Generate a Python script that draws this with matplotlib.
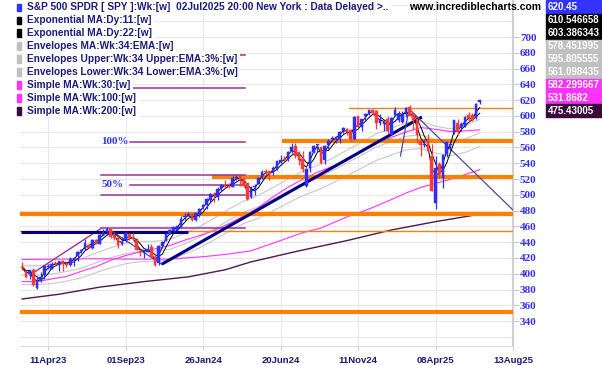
import numpy as np
import matplotlib.pyplot as plt
from matplotlib.patches import Rectangle

# weekly SPY candles, week 0 = 13Feb2023
opens = [408.7, 403.1, 399.9, 405.0, 381.8, 390.8, 398.1, 408.9, 406.6, 412.4,
         411.9, 415.5, 412.0, 411.1, 418.6, 422.0, 428.3, 430.9, 436.7, 432.6,
         442.9, 438.2, 449.1, 453.4, 456.3, 448.7, 444.7, 437.6, 442.2, 450.7,
         446.4, 443.1, 429.2, 426.6, 427.6, 433.8, 420.7, 413.6, 435.5, 441.6,
         450.5, 454.7, 455.8, 459.7, 472.5, 474.0, 476.3, 467.5, 475.3, 484.0,
         487.6, 493.7, 500.9, 497.7, 508.3, 512.0, 510.5, 510.5, 521.2, 523.8,
         519.2, 515.1, 497.8, 509.5, 513.8, 522.6, 529.6, 530.3, 529.0, 533.2,
         542.1, 544.3, 545.6, 555.4, 562.0, 553.0, 546.0, 511.6, 534.2, 554.7,
         563.2, 560.5, 544.7, 562.9, 570.3, 570.4, 571.3, 581.2, 583.9, 582.6,
         571.3, 599.8, 586.2, 599.5, 602.9, 607.7, 606.0, 590.9, 589.9, 596.3,
         575.8, 600.7, 594.8, 592.7, 604.0, 610.9, 602.0, 596.2, 567.6, 562.8,
         570.8, 549.8, 489.2, 539.0, 521.0, 551.6, 563.0, 579.0, 591.5, 585.5,
         587.8, 601.0, 600.8, 597.4, 617.4]
highs = [415.1, 404.2, 404.5, 407.5, 396.5, 402.5, 409.7, 411.9, 415.1, 415.7,
         416.2, 417.6, 414.5, 420.7, 420.8, 428.7, 431.0, 443.9, 438.5, 444.3,
         444.1, 451.4, 456.4, 459.4, 458.2, 451.4, 448.1, 446.6, 453.7, 451.0,
         451.1, 445.4, 431.9, 430.0, 438.1, 438.1, 424.8, 436.3, 440.9, 451.4,
         456.4, 459.6, 461.0, 472.9, 476.4, 477.6, 476.4, 477.0, 482.7, 488.8,
         496.1, 501.7, 503.5, 510.1, 513.3, 518.2, 515.5, 524.1, 524.6, 524.4,
         523.2, 515.3, 510.6, 513.5, 522.6, 531.5, 533.1, 530.5, 536.0, 543.4,
         550.3, 548.6, 555.1, 566.0, 565.2, 556.0, 555.3, 534.0, 555.0, 563.2,
         564.9, 561.0, 563.0, 570.4, 574.7, 574.4, 580.3, 586.1, 585.1, 584.0,
         599.9, 600.2, 596.2, 603.4, 608.0, 609.1, 607.8, 602.5, 592.4, 599.7,
         598.8, 610.8, 606.1, 606.3, 611.5, 613.2, 603.4, 597.3, 570.0, 570.9,
         577.0, 565.0, 548.6, 541.2, 551.8, 567.9, 568.2, 594.5, 596.0, 592.2,
         600.0, 605.1, 604.0, 616.4, 620.5]
lows = [404.1, 394.5, 393.6, 384.3, 380.7, 389.4, 393.7, 405.7, 405.9, 410.2,
        403.8, 403.7, 408.9, 409.9, 410.2, 416.2, 425.8, 430.2, 432.1, 431.2,
        437.1, 437.5, 448.8, 449.4, 445.0, 443.3, 433.0, 436.4, 440.4, 442.8,
        442.8, 429.7, 422.3, 420.2, 427.2, 421.0, 409.2, 411.6, 433.0, 441.4,
        450.0, 453.4, 453.8, 458.8, 468.0, 473.3, 466.4, 467.1, 471.7, 481.8,
        482.4, 490.5, 491.3, 493.3, 504.6, 508.1, 508.5, 510.0, 518.4, 511.0,
        509.9, 493.9, 496.5, 499.7, 513.3, 519.5, 524.7, 518.8, 524.8, 531.5,
        540.9, 541.4, 542.7, 553.2, 546.9, 537.5, 529.3, 510.3, 528.9, 553.0,
        553.9, 539.4, 539.4, 557.8, 567.6, 566.0, 566.0, 578.6, 575.6, 568.4,
        569.9, 584.8, 580.9, 595.2, 601.1, 601.5, 583.4, 589.1, 580.9, 578.3,
        575.4, 599.3, 592.7, 591.6, 598.2, 599.5, 582.4, 565.6, 549.7, 561.2,
        555.6, 505.1, 481.8, 520.8, 509.0, 547.4, 556.0, 577.0, 575.6, 581.0,
        585.7, 593.9, 593.5, 596.7, 615.0]
closes = [407.3, 396.4, 404.2, 385.9, 390.0, 395.8, 409.4, 409.2, 412.5, 412.2,
          415.9, 412.6, 411.6, 418.6, 420.0, 427.9, 429.9, 439.5, 433.2, 443.3,
          438.6, 449.3, 452.2, 456.9, 446.8, 445.7, 436.5, 440.0, 451.2, 445.5,
          443.4, 430.4, 427.5, 429.5, 431.5, 421.2, 410.7, 434.7, 440.6, 450.8,
          455.3, 459.1, 460.2, 469.3, 473.7, 475.3, 467.9, 476.7, 482.4, 487.4,
          494.4, 501.2, 499.5, 507.9, 512.9, 511.7, 509.8, 521.2, 523.1, 518.4,
          510.9, 495.2, 508.3, 511.3, 520.8, 529.5, 529.4, 527.4, 534.0, 542.8,
          544.5, 544.2, 554.6, 560.0, 549.0, 544.4, 532.9, 533.0, 554.3, 562.1,
          563.7, 540.4, 562.0, 568.3, 571.5, 573.0, 579.6, 584.6, 579.0, 571.0,
          598.2, 585.8, 595.5, 602.6, 607.8, 604.3, 591.2, 595.0, 592.0, 580.5,
          597.6, 608.0, 601.8, 600.8, 609.7, 600.0, 594.2, 575.9, 562.8, 564.0,
          555.7, 505.3, 533.9, 526.4, 550.6, 566.8, 564.3, 594.2, 579.1, 589.4,
          599.1, 597.0, 594.3, 614.9, 620.45]

ema11 = [408, 401, 402, 394, 391, 392, 402, 407, 411, 412,
         414, 414, 413, 415, 418, 424, 428, 434, 435, 439,
         440, 445, 449, 454, 451, 448, 441, 440, 445, 447,
         445, 437, 431, 429, 430, 426, 417, 424, 434, 445,
         451, 456, 459, 465, 470, 474, 471, 473, 478, 484,
         490, 497, 499, 504, 509, 512, 511, 516, 520, 521,
         515, 504, 504, 508, 516, 524, 528, 528, 531, 537,
         542, 544, 550, 556, 554, 548, 539, 535, 544, 555,
         562, 552, 555, 562, 569, 572, 576, 581, 581, 576,
         586, 588, 592, 598, 604, 605, 598, 595, 593, 587,
         591, 600, 603, 602, 605, 603, 599, 586, 572, 565,
         560, 532, 527, 526, 540, 555, 563, 580, 582, 587,
         593, 597, 596, 605, 610.5]
ema22 = [409, 404, 404, 399, 396, 392, 395, 400, 407, 410,
         412, 413, 414, 414, 415, 419, 423, 429, 432, 436,
         438, 441, 445, 449, 451, 451, 447, 443, 442, 444,
         446, 443, 438, 432, 430, 428, 424, 422, 425, 434,
         443, 451, 455, 460, 465, 470, 472, 473, 474, 478,
         484, 490, 495, 500, 504, 508, 511, 513, 516, 519,
         519, 513, 508, 505, 509, 516, 523, 527, 529, 532,
         537, 541, 545, 550, 553, 553, 547, 541, 539, 545,
         554, 556, 556, 556, 562, 568, 572, 576, 579, 579,
         581, 583, 589, 593, 598, 602, 602, 599, 595, 592,
         590, 593, 598, 602, 603, 603, 602, 596, 586, 574,
         566, 552, 540, 528, 531, 540, 553, 566, 575, 583,
         587, 592, 595, 599, 603.4]

env_wk = [0, 4, 8, 12, 16, 20, 24, 28, 32, 36, 40, 44, 48, 52, 56, 60,
          64, 68, 72, 76, 80, 84, 88, 92, 96, 100, 104, 108, 112, 116, 120, 124]
env_mid = [398.0, 398.2, 399.5, 402.7, 406.9, 413.8, 420.4, 425.4, 428.3, 428.3,
           430.9, 437.8, 446.2, 456.5, 467.9, 477.8, 484.8, 494.4, 504.8, 514.3,
           521.6, 530.3, 540.4, 550.4, 560.6, 567.3, 574.2, 576.1, 569.9, 566.6,
           570.8, 578.45]
env_up = [409.9, 410.1, 411.5, 414.8, 419.1, 426.2, 433.0, 438.2, 441.1, 441.1,
          443.8, 450.9, 459.6, 470.2, 481.9, 492.1, 499.3, 509.3, 519.9, 529.7,
          537.2, 546.2, 556.6, 566.9, 577.4, 584.3, 591.4, 593.4, 587.0, 583.6,
          587.9, 595.8]
env_lo = [386.1, 386.3, 387.5, 390.6, 394.7, 401.4, 407.8, 412.6, 415.5, 415.5,
          418.0, 424.7, 432.8, 442.8, 453.9, 463.5, 470.3, 479.6, 489.7, 498.9,
          505.9, 514.7, 524.2, 533.9, 543.8, 550.3, 557.0, 558.8, 552.8, 549.6,
          553.7, 561.1]
sma30 = [390, 390, 393.4, 396.5, 403, 409, 417, 423, 427.7, 431.4,
         435.8, 442.5, 448.2, 454.8, 463.4, 473.2, 483.7, 497.5, 509.5, 519.5,
         528.6, 536.0, 544.3, 554.9, 565.4, 572.6, 579.7, 585.3, 583.0, 580.2,
         581.1, 582.3]
sma100_wk = [0, 10, 20, 30, 40, 50, 56, 62, 70, 76, 81, 88, 94, 100, 104, 108, 112, 116, 120, 124]
sma100 = [418, 418.5, 419, 418.5, 418.5, 422, 425, 429, 442, 452,
          458, 472, 482, 493.9, 502.3, 509.4, 514.5, 519.6, 525.7, 531.9]
sma200_wk = [0, 10, 21, 33, 45, 55, 62, 75, 88, 100, 112, 124]
sma200 = [368, 374, 383, 390, 396, 405, 415, 429, 442, 455.4, 466, 475.4]

# drawn support / resistance lines: (level, start week)
orange_thick = [(351.5, -1), (475.5, -1), (522.5, 51.4), (568.0, 70.4)]
orange_thin = [(454.5, -1), (610.0, 88.6)]
fib_levels = [676.7, 634.9, 567.3, 525.5, 512.6, 499.7, 457.9]
fib_start = [29.3, 29.3, 29.3, 21.4, 29.3, 21.4, 21.4]
fib_end = 60.4
fib_labels = [('100%', 567.3), ('50%', 512.6)]
navy_thick = [((-0.2, 45.0), (452.5, 452.5)), ((37.8, 108.3), (412.0, 598.6))]
navy_thin = [((23.8, 37.8), (455.4, 412.0)), ((104.6, 133.0), (610.0, 480.7)),
             ((102.5, 104.8), (549.2, 608.7))]
fib_diag = ((2.1, 21.4), (398.4, 457.5))

tick_wk = [7, 28, 49, 70, 91, 112, 133]
tick_lbl = ['11Apr23', '01Sep23', '26Jan24', '20Jun24', '11Nov24', '08Apr25', '13Aug25']

legend = [('S&P 500 SPDR [ SPY ]:Wk:[w]  02Jul2025 20:00 New York : Data Delayed >..', '#3333ff'),
          ('Exponential MA:Dy:11:[w]', '#000000'),
          ('Exponential MA:Dy:22:[w]', '#000000'),
          ('Envelopes MA:Wk:34:EMA:[w]', '#c0c0c0'),
          ('Envelopes Upper:Wk:34 Upper:EMA:3%:[w]', '#c0c0c0'),
          ('Envelopes Lower:Wk:34 Lower:EMA:3%:[w]', '#c0c0c0'),
          ('Simple MA:Wk:30:[w]', '#ff33ff'),
          ('Simple MA:Wk:100:[w]', '#ff33ff'),
          ('Simple MA:Wk:200:[w]', '#3a0a3a')]
last_vals = ['620.45', '610.546658', '603.386343', '578.451995', '595.805555',
             '561.098435', '582.299667', '531.8682', '475.43005']

W, H = 602, 365
fig = plt.figure(figsize=(W / 100, H / 100), dpi=100)
ax = fig.add_axes([20 / W, 1 - 346 / H, 493 / W, 346 / H])
ax.set_xlim(-0.6, 133.0)
ax.set_ylim(308.4, 746.9)

for v in range(320, 741, 20):
    ax.axhline(v, color='#e8e8e8', lw=0.8, zorder=0)
for t in tick_wk:
    ax.axvline(t, color='#e8e8e8', lw=0.8, zorder=0)

wk = np.arange(len(closes))
ax.plot(env_wk, env_up, color='#c8c8c8', lw=0.8, zorder=2)
ax.plot(env_wk, env_mid, color='#c8c8c8', lw=0.8, zorder=2)
ax.plot(env_wk, env_lo, color='#c8c8c8', lw=0.8, zorder=2)
ax.plot(env_wk, sma30, color='#ff33ff', lw=0.8, zorder=2)
ax.plot(sma100_wk, sma100, color='#ff33ff', lw=0.8, zorder=2)
ax.plot(sma200_wk, sma200, color='#4d1a4d', lw=1.0, zorder=2)

for lvl, x0 in orange_thick:
    ax.plot([x0, 134], [lvl, lvl], color='#ff8000', lw=3, zorder=3, solid_capstyle='butt')
for lvl, x0 in orange_thin:
    ax.plot([x0, 134], [lvl, lvl], color='#ff8000', lw=1, zorder=3)
for lvl, x0 in zip(fib_levels, fib_start):
    ax.plot([x0, fib_end], [lvl, lvl], color='#993399', lw=1.1, zorder=3)
ax.plot(fib_diag[0], fib_diag[1], color='#993399', lw=1.0, zorder=3)
for txt, lvl in fib_labels:
    ax.text(21.4, lvl, txt, color='#3333ee', fontsize=8, fontweight='bold',
            family='Liberation Serif', va='center', ha='left', zorder=4)
for xs, ys in navy_thick:
    ax.plot(xs, ys, color='#000080', lw=2.2, zorder=4, solid_capstyle='butt')
for xs, ys in navy_thin:
    ax.plot(xs, ys, color='#4a4a9a', lw=0.9, zorder=4)

ax.plot(wk, ema22, color='#000000', lw=0.7, zorder=5)
ax.plot(wk, ema11, color='#000000', lw=0.7, zorder=5)

o = np.array(opens); c = np.array(closes)
cols = np.where(c >= o, '#2e2eff', '#ff3838')
ax.vlines(wk, lows, highs, colors=cols, lw=0.9, zorder=6)
ax.bar(wk, np.maximum(np.abs(c - o), 0.8), bottom=np.minimum(o, c), width=0.72,
       color=cols, edgecolor=cols, lw=0.3, zorder=6)

ax.yaxis.tick_right()
ax.set_yticks(range(340, 701, 20))
ax.tick_params(axis='y', length=4, width=0.8, color='#c8c8c8', labelcolor='#3333ee',
               labelsize=8, pad=1)
for lab in ax.get_yticklabels():
    lab.set_family('Liberation Serif')
    lab.set_fontweight('bold')
ax.set_xticks(tick_wk)
ax.set_xticklabels(tick_lbl)
ax.tick_params(axis='x', length=3, width=0.8, color='#d0d0d0', labelcolor='#1a1a73',
               labelsize=6.8, pad=4)
for lab in ax.get_xticklabels():
    lab.set_family('Liberation Sans')
    lab.set_fontweight('bold')
for s in ['top', 'left']:
    ax.spines[s].set_visible(False)
ax.spines['bottom'].set_color('#dcdcdc')
ax.spines['right'].set_color('#d0d0d0')
ax.spines['right'].set_linewidth(1.5)

# legend block
for k, (txt, col) in enumerate(legend):
    yc = 7.3 + 12.95 * k
    fig.patches.append(Rectangle((17 / W, 1 - (yc + 3.7) / H), 3.8 / W, 7.4 / H,
                                 transform=fig.transFigure, color=col, zorder=10))
    fig.text(27 / W, 1 - yc / H, txt, fontsize=7.3, fontweight='bold', color='#1c1c7c',
             family='Liberation Sans', va='center', ha='left', zorder=10,
             bbox=dict(boxstyle='square,pad=0.25', fc='white', ec='none'))

fig.text(541 / W, 1 - 7 / H, 'www.incrediblecharts.com', fontsize=7.5, fontweight='bold',
         color='#000000', family='Liberation Sans', va='center', ha='right')

# last-value boxes
for k, (val, (_, col)) in enumerate(zip(last_vals, legend)):
    top = 0 if k == 0 else 7.3 + 12.95 * k - 6.5
    bot = 7.3 + 12.95 * k + 6.5
    fig.patches.append(Rectangle((546 / W, 1 - bot / H), 55.5 / W, (bot - top) / H,
                                 transform=fig.transFigure, color=col, zorder=10))
    fig.text(548 / W, 1 - (7.3 + 12.95 * k) / H, val, fontsize=7, fontweight='bold',
             color='white', family='Liberation Sans', va='center', ha='left', zorder=11)

fig.savefig('out.png', dpi=100)
